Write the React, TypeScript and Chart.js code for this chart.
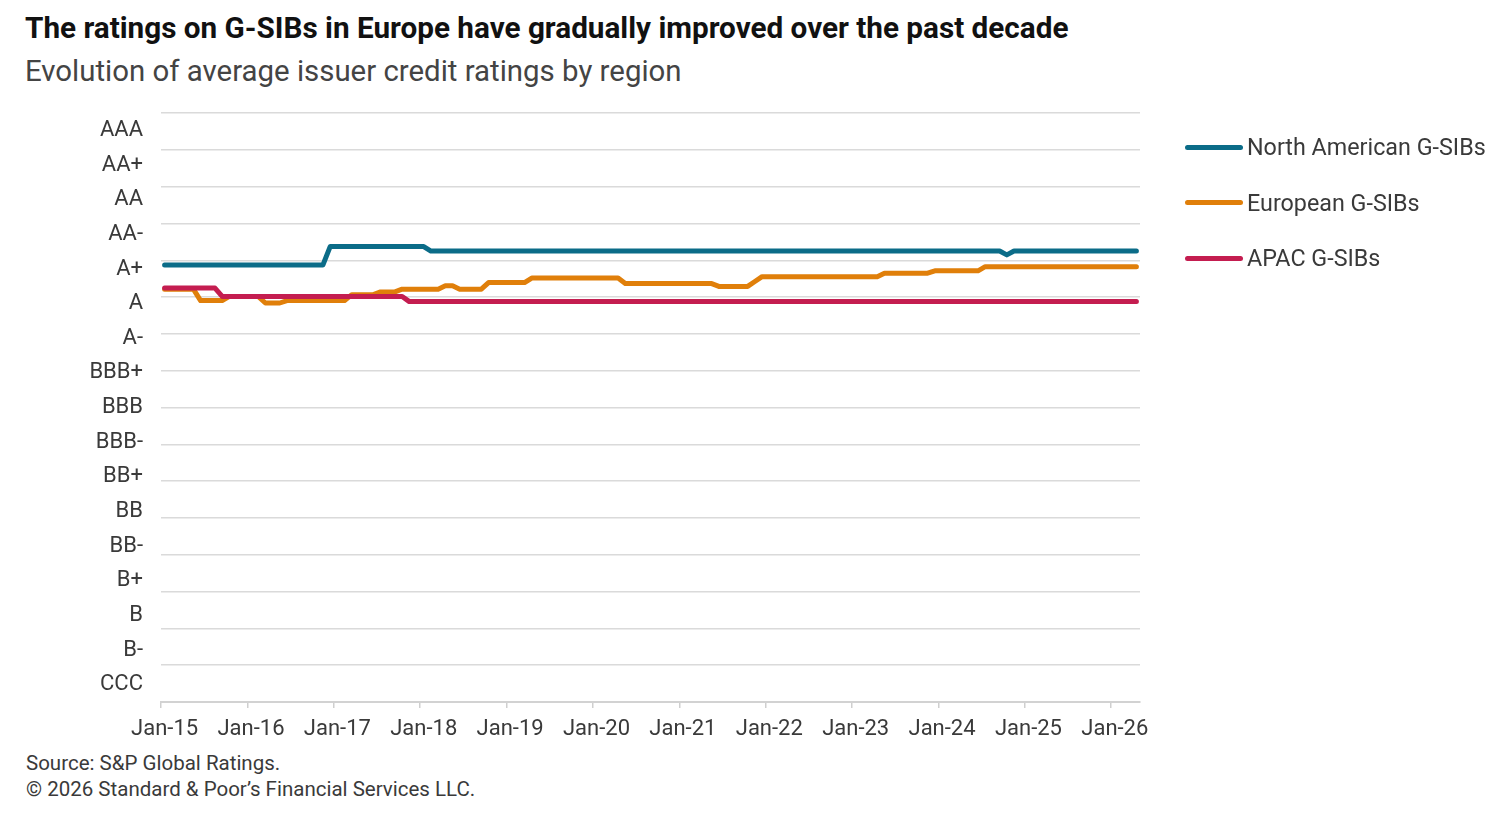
import React, { useEffect, useRef } from "react";
import { Chart, registerables } from "chart.js";

Chart.register(...registerables);

// Rating scale, best to worst. Numeric notch: CCC = 1 ... AAA = 17.
const ratingLabels = [
  "AAA", "AA+", "AA", "AA-", "A+", "A", "A-", "BBB+", "BBB", "BBB-",
  "BB+", "BB", "BB-", "B+", "B", "B-", "CCC",
];
const topNotch = ratingLabels.length;

// Monthly categories, Jan-15 through Apr-26.
const monthNames = ["Jan", "Feb", "Mar", "Apr", "May", "Jun", "Jul", "Aug", "Sep", "Oct", "Nov", "Dec"];
const yearSuffixes = ["15", "16", "17", "18", "19", "20", "21", "22", "23", "24", "25", "26"];
const monthCount = 136;
const months = yearSuffixes
  .flatMap((yy) => monthNames.map((m) => `${m}-${yy}`))
  .slice(0, monthCount);

// Average rating (in notches) at each month where the series changes level.
const northAmericanGSIBs: [string, number][] = [
  ["Jan-15", 13.12], ["Nov-16", 13.12], ["Dec-16", 13.65], ["Jan-18", 13.65],
  ["Feb-18", 13.52], ["Sep-24", 13.52], ["Oct-24", 13.41], ["Nov-24", 13.52],
  ["Apr-26", 13.52],
];

const europeanGSIBs: [string, number][] = [
  ["Jan-15", 12.42], ["May-15", 12.42], ["Jun-15", 12.09], ["Sep-15", 12.09],
  ["Oct-15", 12.21], ["Feb-16", 12.21], ["Mar-16", 12.02], ["May-16", 12.02],
  ["Jun-16", 12.09], ["Feb-17", 12.09], ["Mar-17", 12.26], ["Jun-17", 12.26],
  ["Jul-17", 12.34], ["Sep-17", 12.34], ["Oct-17", 12.42], ["Mar-18", 12.42],
  ["Apr-18", 12.52], ["May-18", 12.52], ["Jun-18", 12.42], ["Sep-18", 12.42],
  ["Oct-18", 12.61], ["Mar-19", 12.61], ["Apr-19", 12.74], ["Apr-20", 12.74],
  ["May-20", 12.58], ["May-21", 12.58], ["Jun-21", 12.5], ["Oct-21", 12.5],
  ["Nov-21", 12.64], ["Dec-21", 12.78], ["Apr-23", 12.78], ["May-23", 12.88],
  ["Nov-23", 12.88], ["Dec-23", 12.95], ["Jun-24", 12.95], ["Jul-24", 13.07],
  ["Apr-26", 13.07],
];

const apacGSIBs: [string, number][] = [
  ["Jan-15", 12.45], ["Aug-15", 12.45], ["Sep-15", 12.21], ["Oct-17", 12.21],
  ["Nov-17", 12.06], ["Apr-26", 12.06],
];

const seriesNames = ["North American G-SIBs", "European G-SIBs", "APAC G-SIBs"];
const seriesColors = ["#0b6c88", "#e07f0a", "#c41d50"];
const seriesData = [northAmericanGSIBs, europeanGSIBs, apacGSIBs];

const FONT = "Roboto, 'Liberation Sans', Arial, sans-serif";
const TEXT = "#3a3a3a";

function RatingsChart() {
  const canvasRef = useRef<HTMLCanvasElement | null>(null);

  useEffect(() => {
    if (!canvasRef.current) return;
    const chart = new Chart(canvasRef.current, {
      type: "line",
      data: {
        labels: months,
        datasets: seriesData.map((points, i) => ({
          label: seriesNames[i],
          data: points.map(([m, v]) => ({ x: m, y: v })),
          borderColor: seriesColors[i],
          backgroundColor: seriesColors[i],
          borderWidth: 5,
          borderCapStyle: "round",
          borderJoinStyle: "round",
          pointRadius: 0,
          pointHoverRadius: 0,
          tension: 0,
          fill: false,
          order: 2 - i,
        })),
      },
      options: {
        responsive: false,
        animation: false,
        layout: { padding: { top: 11, right: 360, bottom: 0, left: 0 } },
        plugins: {
          legend: { display: false },
          tooltip: { enabled: false },
        },
        scales: {
          x: {
            type: "category",
            offset: true,
            afterFit: (s: any) => {
              s.height = 48;
            },
            grid: {
              offset: true,
              drawOnChartArea: false,
              drawTicks: true,
              tickLength: 6,
              lineWidth: 1.5,
              color: (ctx: any) => (ctx.index % 12 === 0 ? "#cfcfcf" : "rgba(0,0,0,0)"),
            },
            border: { display: true, color: "#d2d2d2", width: 2 },
            ticks: {
              autoSkip: false,
              maxRotation: 0,
              minRotation: 0,
              padding: 8,
              color: TEXT,
              font: { family: FONT, size: 22 },
              callback: (_v: any, i: number) => (i % 12 === 0 ? months[i] : ""),
            },
          },
          y: {
            type: "linear",
            position: "left",
            min: 0.5,
            max: topNotch + 0.5,
            afterBuildTicks: (s: any) => {
              s.ticks = ratingLabels.map((_, i) => ({ value: topNotch - i }));
            },
            afterFit: (s: any) => {
              s.width = 153;
            },
            grid: { display: false },
            border: { display: false },
            ticks: {
              padding: 10,
              color: TEXT,
              font: { family: FONT, size: 22 },
              callback: (v: any) => ratingLabels[topNotch - Number(v)] ?? "",
            },
          },
          yGrid: {
            type: "linear",
            position: "left",
            min: 0.5,
            max: topNotch + 0.5,
            afterFit: (s: any) => {
              s.width = 0;
            },
            ticks: { display: false, stepSize: topNotch / 16 },
            grid: { color: "#dadada", lineWidth: 1.5, drawTicks: false },
            border: { display: false },
          },
        },
      },
    } as any);
    return () => chart.destroy();
  }, []);

  return (
    <canvas
      ref={canvasRef}
      width={1492}
      height={660}
      style={{ position: "absolute", left: 0, top: 82, width: 1492, height: 660 }}
    />
  );
}

export default function App() {
  return (
    <div style={{ position: "relative", width: 1492, height: 800, fontFamily: FONT, color: TEXT }}>
      <div
        style={{
          position: "absolute",
          left: 17,
          top: 3,
          fontSize: 29.7,
          lineHeight: "34px",
          fontWeight: 700,
          color: "#111",
          whiteSpace: "nowrap",
        }}
      >
        The ratings on G-SIBs in Europe have gradually improved over the past decade
      </div>
      <div
        style={{
          position: "absolute",
          left: 17,
          top: 46,
          fontSize: 29.4,
          lineHeight: "34px",
          color: "#444",
          whiteSpace: "nowrap",
        }}
      >
        Evolution of average issuer credit ratings by region
      </div>

      <RatingsChart />

      <div style={{ position: "absolute", left: 1177, top: 125 }}>
        {seriesNames.map((name, i) => (
          <div
            key={name}
            style={{ display: "flex", alignItems: "center", height: 28, marginBottom: 27.5 }}
          >
            <span
              style={{
                display: "inline-block",
                width: 58,
                height: 5,
                borderRadius: 3,
                background: seriesColors[i],
                marginRight: 4,
              }}
            />
            <span style={{ fontSize: 23.3, color: TEXT, whiteSpace: "nowrap" }}>{name}</span>
          </div>
        ))}
      </div>

      <div
        style={{
          position: "absolute",
          left: 18,
          top: 742,
          fontSize: 20.5,
          lineHeight: "26px",
          color: TEXT,
          whiteSpace: "nowrap",
        }}
      >
        <div>Source: S&amp;P Global Ratings.</div>
        <div>© 2026 Standard &amp; Poor’s Financial Services LLC.</div>
      </div>
    </div>
  );
}
